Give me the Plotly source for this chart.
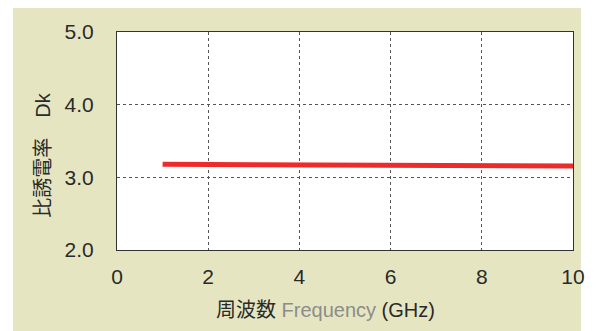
import plotly.graph_objects as go

freq_ghz = [1, 10]
dk_values = [3.18, 3.155]
x_ticks = [0, 2, 4, 6, 8, 10]
y_ticks = [2.0, 3.0, 4.0, 5.0]
y_tick_labels = ["2.0", "3.0", "4.0", "5.0"]

# page body has an 8px margin; figure is positioned at (8, 8)
OFF = 8
W, H = 597 - OFF, 331 - OFF
L, R, T, B = 117 - OFF, 20, 32 - OFF, 81
pw, ph = W - L - R, H - T - B

def px(x):
    return (x - OFF - L) / pw

def py(y):
    return (H - B - (y - OFF)) / ph

FONT = "Liberation Sans, Arial, Noto Sans CJK JP, sans-serif"

fig = go.Figure()
fig.add_trace(go.Scatter(x=freq_ghz, y=dk_values, mode="lines",
                         line=dict(color="#ee2b2b", width=5), hoverinfo="skip"))

beige = "#e5e6c1"
fig.update_layout(
    width=W, height=H,
    margin=dict(l=L, r=R, t=T, b=B),
    paper_bgcolor=beige, plot_bgcolor="white",
    showlegend=False,
    font=dict(family=FONT, size=20, color="#2a2a2a"),
    xaxis=dict(range=[0, 10], tickvals=x_ticks, ticktext=[str(v) for v in x_ticks],
               showgrid=True, gridcolor="#555555", griddash="dot", gridwidth=1,
               showline=True, linecolor="#333333", linewidth=1, mirror=True,
               ticks="", zeroline=False, ticklabelstandoff=8,
               tickfont=dict(family=FONT, size=21, color="#2a2a2a")),
    yaxis=dict(range=[2.0, 5.0], tickvals=y_ticks, ticktext=y_tick_labels,
               showgrid=True, gridcolor="#555555", griddash="dot", gridwidth=1,
               showline=True, linecolor="#333333", linewidth=1, mirror=True,
               ticks="", zeroline=False, ticklabelstandoff=18,
               tickfont=dict(family=FONT, size=21, color="#2a2a2a")),
    shapes=[
        dict(type="rect", xref="paper", yref="paper", x0=px(0), x1=px(12), y0=py(340), y1=py(0),
             fillcolor="white", line_width=0, layer="below"),
        dict(type="rect", xref="paper", yref="paper", x0=px(585), x1=px(600), y0=py(340), y1=py(0),
             fillcolor="white", line_width=0, layer="below"),
    ],
    annotations=[
        dict(text="比誘電率　Dk", xref="paper", yref="paper", x=px(42), y=py(155),
             textangle=-90, showarrow=False, xanchor="center", yanchor="middle",
             font=dict(family=FONT, size=20, color="#2a2a2a")),
        dict(text="周波数 <span style='color:#8c8c8c'>Frequency</span> (GHz)",
             xref="paper", yref="paper", x=px(327), y=py(310), showarrow=False,
             xanchor="center", yanchor="middle",
             font=dict(family=FONT, size=20, color="#2a2a2a")),
    ],
)

fig.write_html("out.html")
